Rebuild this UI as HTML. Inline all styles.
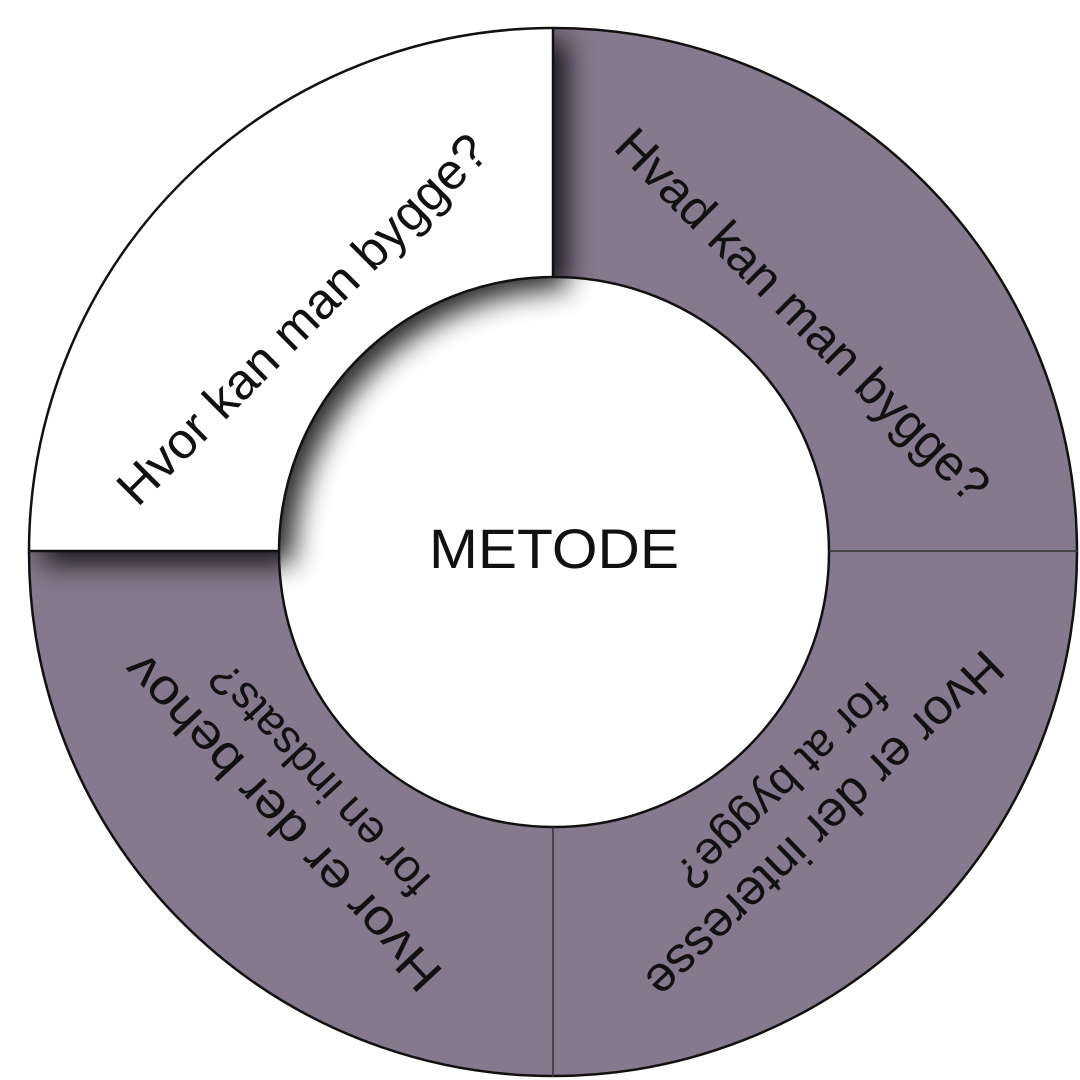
<!DOCTYPE html>
<html><head><style>html,body{margin:0;padding:0;background:#fff;width:1080px;height:1080px;overflow:hidden}</style></head>
<body>
<svg width="1080" height="1080" viewBox="0 0 1080 1080" xmlns="http://www.w3.org/2000/svg" font-family="'Liberation Sans', sans-serif">
<defs>
<filter id="sh" x="-20%" y="-20%" width="150%" height="150%">
<feGaussianBlur in="SourceAlpha" stdDeviation="14"/>
<feOffset dx="14" dy="12" result="b"/>
<feComponentTransfer><feFuncA type="linear" slope="0.85"/></feComponentTransfer>
<feMerge><feMergeNode/><feMergeNode in="SourceGraphic"/></feMerge>
</filter>
<clipPath id="ring"><circle cx="553" cy="552" r="525"/></clipPath>
</defs>
<g clip-path="url(#ring)">
<circle cx="553" cy="552" r="525" fill="#85798d"/>
<circle cx="554" cy="552" r="275" fill="#fff"/>
<path d="M553 27 A525 525 0 0 0 28 552 L279 552 A275 275 0 0 1 553 277 Z" fill="#fff" filter="url(#sh)"/>
</g>
<circle cx="553" cy="552" r="524" fill="none" stroke="#111" stroke-width="2.5"/>
<circle cx="554" cy="552" r="275" fill="none" stroke="#111" stroke-width="2.5"/>
<line x1="553" y1="27" x2="553" y2="277" stroke="#111" stroke-width="2.5"/>
<line x1="28" y1="551" x2="279" y2="551" stroke="#111" stroke-width="2.5"/>
<line x1="829" y1="551" x2="1078" y2="551" stroke="#333" stroke-width="1.5"/>
<line x1="553" y1="827" x2="553" y2="1077" stroke="#333" stroke-width="1.5"/>
<text x="554" y="568" font-size="56" text-anchor="middle" fill="#111" textLength="250" lengthAdjust="spacingAndGlyphs">METODE</text>
<g font-size="50" fill="#111" text-anchor="middle" dominant-baseline="middle">
<text transform="translate(305,322) rotate(-45)" textLength="500" lengthAdjust="spacingAndGlyphs">Hvor kan man bygge?</text>
<text transform="translate(800,318) rotate(45)" textLength="505" lengthAdjust="spacingAndGlyphs">Hvad kan man bygge?</text>
<text transform="translate(822,822) rotate(136)" textLength="475" lengthAdjust="spacingAndGlyphs">Hvor er der interesse</text>
<text transform="translate(780,783) rotate(136)" font-size="46" textLength="275" lengthAdjust="spacingAndGlyphs">for at bygge?</text>
<text transform="translate(285,820) rotate(-133)" textLength="440" lengthAdjust="spacingAndGlyphs">Hvor er der behov</text>
<text transform="translate(322,778) rotate(-133)" font-size="46" textLength="300" lengthAdjust="spacingAndGlyphs">for en indsats?</text>
</g>
</svg>
</body></html>
